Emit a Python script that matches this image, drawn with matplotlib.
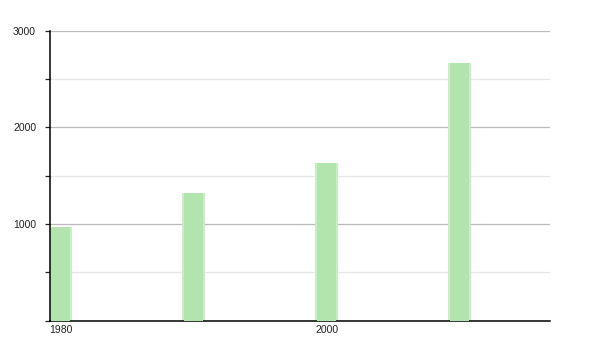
import matplotlib.pyplot as plt
from matplotlib.ticker import MultipleLocator

years = [1980, 1990, 2000, 2010]
population = [966, 1324, 1628, 2668]
x_ticks = [1980, 2000]
y_ticks = [1000, 2000, 3000]

plt.rcParams['font.family'] = ['Liberation Sans', 'DejaVu Sans']

fig = plt.figure(figsize=(6, 3.5), dpi=100)
ax = fig.add_axes([50 / 600, 29.3 / 350, 500 / 600, 290 / 350])

# soft edge like the original's blurred bars
ax.bar(years, population, width=1.7, color='#c9eec6', zorder=2)
ax.bar(years, population, width=1.45, color='#b2e4ae', zorder=3)

ax.set_xlim(1979.2, 2016.8)
ax.set_ylim(0, 3000)
ax.set_xticks(x_ticks)
ax.set_yticks(y_ticks)
ax.yaxis.set_minor_locator(MultipleLocator(500))

ax.grid(axis='y', which='major', color='#bbbbbb', linewidth=0.9, zorder=1)
ax.grid(axis='y', which='minor', color='#e6e6e6', linewidth=0.9, zorder=1)

for side in ['top', 'right']:
    ax.spines[side].set_visible(False)
ax.spines['left'].set_linewidth(1.1)
ax.spines['bottom'].set_linewidth(1.1)

ax.tick_params(axis='y', which='both', length=3.5, width=0.9, pad=6.5,
               labelsize=7.5, colors='#222222')
ax.tick_params(axis='x', length=0, pad=3, labelsize=7.5, colors='#222222')

fig.savefig('out.png', dpi=100)
